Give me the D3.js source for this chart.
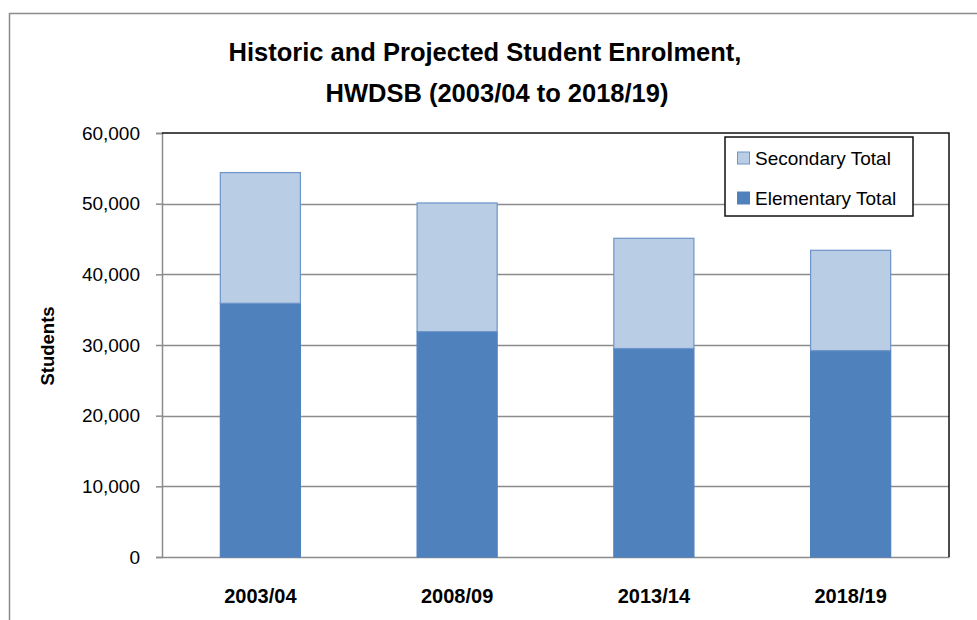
<!DOCTYPE html>
<html>
<head>
<meta charset="utf-8">
<script src="https://cdn.jsdelivr.net/npm/d3@7/dist/d3.min.js"></script>
<style>
  html, body { margin: 0; padding: 0; background: #fff; }
  text { font-family: "Liberation Sans", Arial, sans-serif; fill: #000; }
</style>
</head>
<body>
<div id="chart"></div>
<script>
// data
const years = ["2003/04", "2008/09", "2013/14", "2018/19"];
const elementary = [35900, 31900, 29500, 29200];
const secondary = [18500, 18200, 15600, 14200];
const yTicks = [0, 10000, 20000, 30000, 40000, 50000, 60000];
const seriesNames = ["Secondary Total", "Elementary Total"];

const W = 977, H = 620;
const m = { left: 162, right: 949, top: 133, bottom: 557 };

const svg = d3.select("#chart").append("svg")
  .attr("width", W).attr("height", H);

// outer chart frame (top + left only visible)
svg.append("line").attr("x1", 9).attr("x2", W).attr("y1", 13.5).attr("y2", 13.5)
  .attr("stroke", "#8c8c8c").attr("stroke-width", 1.5);
svg.append("line").attr("x1", 9.5).attr("x2", 9.5).attr("y1", 13).attr("y2", H)
  .attr("stroke", "#8c8c8c").attr("stroke-width", 1.5);

// title
const title = svg.append("text")
  .attr("text-anchor", "middle")
  .style("font-size", "25.5px").style("font-weight", "bold");
title.append("tspan").attr("x", 485).attr("y", 61).text("Historic and Projected Student Enrolment,");
title.append("tspan").attr("x", 497).attr("y", 102).text("HWDSB (2003/04 to 2018/19)");

const x = d3.scaleBand().domain(years).range([m.left, m.right])
  .paddingInner(0.593).paddingOuter(0.2965);
const y = d3.scaleLinear().domain([0, 60000]).range([m.bottom, m.top]);

// gridlines
svg.append("g").selectAll("line").data(yTicks.slice(1, -1)).join("line")
  .attr("x1", m.left).attr("x2", m.right)
  .attr("y1", d => Math.round(y(d)) + 0.5).attr("y2", d => Math.round(y(d)) + 0.5)
  .attr("stroke", "#8c8c8c").attr("stroke-width", 1.5);

// y axis
const yAxis = svg.append("g").attr("transform", `translate(${m.left},0)`)
  .call(d3.axisLeft(y).tickValues(yTicks).tickSize(6).tickPadding(16)
    .tickFormat(d3.format(",")));
yAxis.select(".domain").attr("stroke", "#8c8c8c").attr("stroke-width", 1.5);
yAxis.selectAll(".tick line").attr("stroke", "#8c8c8c").attr("stroke-width", 1.5);
yAxis.selectAll(".tick text").style("font-size", "19px")
  .style("font-family", "Liberation Sans, Arial, sans-serif").attr("fill", "#000");

// x axis
const xAxis = svg.append("g").attr("transform", `translate(0,${m.bottom})`)
  .call(d3.axisBottom(x).tickSize(0).tickPadding(32));
xAxis.select(".domain").attr("stroke", "#8c8c8c").attr("stroke-width", 1.5);
xAxis.selectAll(".tick text").style("font-size", "20px").style("font-weight", "bold")
  .style("font-family", "Liberation Sans, Arial, sans-serif").attr("fill", "#000");

// top + right frame of the plot area
svg.append("path")
  .attr("d", `M${m.left},${m.top}H${m.right}V${m.bottom}`)
  .attr("fill", "none").attr("stroke", "#111").attr("stroke-width", 1.5);

// stacked bars
const rows = years.map((yr, i) => ({ year: yr, elementary: elementary[i], secondary: secondary[i] }));
const stack = d3.stack().keys(["elementary", "secondary"])(rows);
const fills = { elementary: "#4f81bd", secondary: "#b9cde5" };
const strokes = { elementary: "#4f81bd", secondary: "#6d95c9" };

svg.append("g").selectAll("g").data(stack).join("g")
  .attr("fill", d => fills[d.key]).attr("stroke", d => strokes[d.key]).attr("stroke-width", 1.2)
  .selectAll("rect").data(d => d).join("rect")
  .attr("x", d => x(d.data.year))
  .attr("width", x.bandwidth())
  .attr("y", d => y(d[1]))
  .attr("height", d => y(d[0]) - y(d[1]));

// y axis title
svg.append("text")
  .attr("transform", "translate(54,346) rotate(-90)")
  .attr("text-anchor", "middle")
  .style("font-size", "18.5px").style("font-weight", "bold")
  .text("Students");

// legend
const lg = svg.append("g").attr("transform", "translate(725,137)");
lg.append("rect").attr("width", 188).attr("height", 79)
  .attr("fill", "#fff").attr("stroke", "#111").attr("stroke-width", 1.5);
const legendKeys = ["secondary", "elementary"];
seriesNames.forEach((name, i) => {
  const row = lg.append("g").attr("transform", `translate(12,${21 + i * 40})`);
  row.append("rect").attr("x", 0.5).attr("y", -6).attr("width", 12).attr("height", 12)
    .attr("fill", fills[legendKeys[i]]).attr("stroke", strokes[legendKeys[i]]);
  row.append("text").attr("x", 18).attr("y", 7)
    .style("font-size", "19px").text(name);
});
</script>
</body>
</html>
